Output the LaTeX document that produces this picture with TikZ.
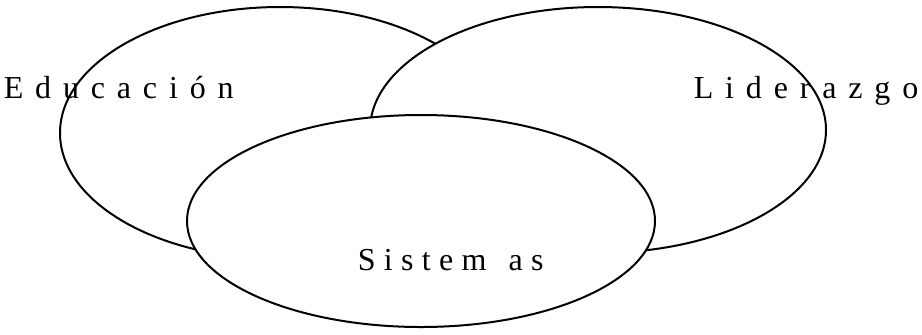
\documentclass[tikz,border=0pt]{standalone}
\usepackage{fontspec}
\setmainfont{Liberation Serif}
\usetikzlibrary{positioning}

\begin{document}
\begin{tikzpicture}[x=0.5pt, y=-0.5pt, thick]
    % Stili
    \tikzstyle{elipse}=[draw=black, line width=1pt, fill=white]
    \tikzstyle{etiqueta}=[anchor=base west, inner sep=0pt, font=\fontsize{16}{19}\selectfont\addfontfeature{LetterSpace=37}]

    \useasboundingbox (0,0) rectangle (922,334);

    % Elipses
    \draw[elipse] (280,133) ellipse [x radius=220, y radius=126];
    \draw[elipse] (598,130) ellipse [x radius=228, y radius=123];
    \draw[elipse] (421,221) ellipse [x radius=234, y radius=106];

    % Etiquette
    \node (edu) [etiqueta] at (3,98) {Educación};
    \node (lid) [etiqueta] at (693,98) {Liderazgo};
    \node (sis) [etiqueta, font=\fontsize{16}{19}\selectfont\addfontfeature{LetterSpace=26}] at (357,270) {Sistem\kern11pt as};

\end{tikzpicture}
\end{document}
